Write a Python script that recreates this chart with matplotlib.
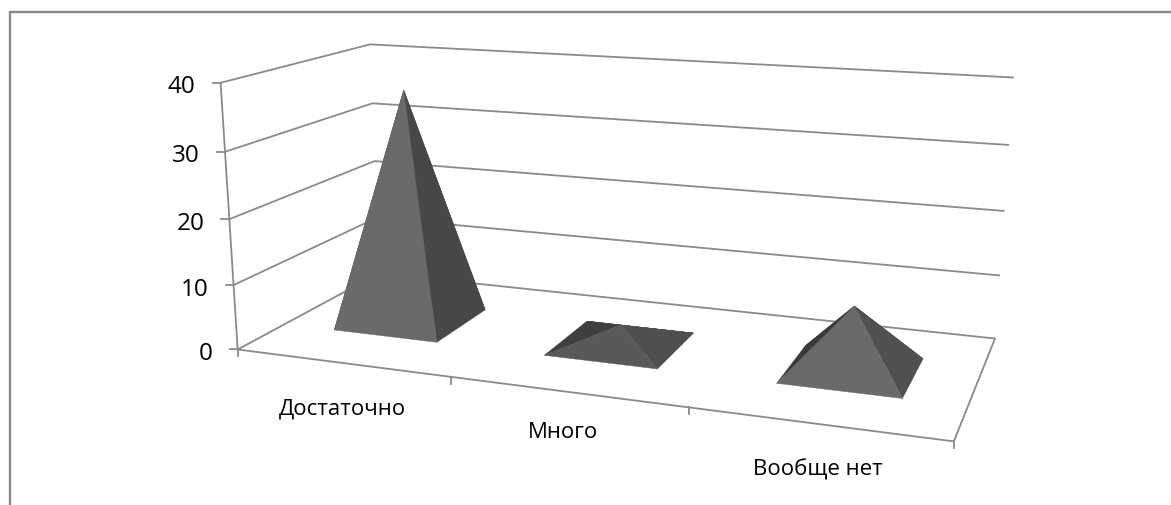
import numpy as np
import matplotlib
matplotlib.use("Agg")
import matplotlib.pyplot as plt

# chart data
categories = ['Достаточно', 'Много', 'Вообще нет']
values = [36.6, 3, 9.7]
y_ticks = [0, 10, 20, 30, 40]

# face colours per pyramid: left, back, right, front
face_colors = [
    ('#3c3c3c', '#3c3c3c', '#474747', '#6a6a6a'),
    ('#3f3f3f', '#3f3f3f', '#4f4f4f', '#595959'),
    ('#3a3a3a', '#3a3a3a', '#505050', '#6a6a6a'),
]

# where the label text sits in the picture (pixels)
label_pos = [(342, 409), (563, 433), (818, 470)]

grey = '#8a8a8a'
font = 'Open Sans'

# box corners in chart coords -> picture pixels, used to fit the camera
box = [(0, 0, 0), (0, 0, 10), (0, 0, 20), (0, 0, 30), (0, 0, 40),
       (3, 1, 0), (3, 1, 10), (3, 1, 20), (3, 1, 30), (3, 1, 40),
       (0, 1, 0), (0, 1, 20), (0, 1, 30), (0, 1, 40), (3, 0, 0)]
pix = [(238, 349.5), (234, 285.7), (229.3, 220), (224.7, 152.7), (220, 84.7),
       (995, 338.5), (999.3, 276.3), (1004, 212), (1008.3, 146), (1013, 78.7),
       (378, 276), (375, 161.7), (373.3, 104), (370, 45), (954, 443.3)]

# solve the 3x4 projection matrix by least squares
A = []
b = []
for (X, Y, Z), (u, v) in zip(box, pix):
    A.append([X, Y, Z, 1, 0, 0, 0, 0, -u * X, -u * Y, -u * Z])
    A.append([0, 0, 0, 0, X, Y, Z, 1, -v * X, -v * Y, -v * Z])
    b += [u, v]
m = np.linalg.lstsq(np.array(A, float), np.array(b, float), rcond=None)[0]
P = np.append(m, 1).reshape(3, 4)


def project(x, y, z):
    h = P @ np.array([x, y, z, 1.0])
    return h[0] / h[2], h[1] / h[2]


def line3d(ax, pts, lw=1.3, color=grey):
    xy = [project(*p) for p in pts]
    ax.plot([p[0] for p in xy], [p[1] for p in xy], color=color, lw=lw, solid_capstyle='round', zorder=2)


fig = plt.figure(figsize=(11.71, 5.06), dpi=100)
ax = fig.add_axes([0, 0, 1, 1])
ax.set_xlim(0, 1171)
ax.set_ylim(506, 0)
ax.axis('off')

# outer chart frame, open on the right and at the bottom
ax.plot([9.5, 9.5, 1171], [506, 13, 13], color=grey, lw=1.7, solid_joinstyle='miter', zorder=1)

# gridlines on the walls
for t in y_ticks:
    line3d(ax, [(0, 0, t), (0, 1, t), (3, 1, t)])
    u, v = project(0, 0, t)
    ax.plot([u - 8, u], [v, v], color=grey, lw=1.3, zorder=2)
    ax.text(u - 25, v + 3.5, str(t), ha='right', va='center', fontsize=17.5, family=font, color='black')

# axis and floor
line3d(ax, [(0, 0, 0), (0, 0, y_ticks[-1])])
line3d(ax, [(0, 0, 0), (3, 0, 0), (3, 1, 0)])
for i in range(len(categories) + 1):
    u, v = project(i, 0, 0)
    ax.plot([u, u], [v, v + 7], color=grey, lw=1.3, zorder=2)

# pyramids
half_w = 0.25
half_d = 0.2
for i, val in enumerate(values):
    cx = i + 0.5
    cy = 0.5
    fl = (cx - half_w, cy - half_d, 0)
    fr = (cx + half_w, cy - half_d, 0)
    br = (cx + half_w, cy + half_d, 0)
    bl = (cx - half_w, cy + half_d, 0)
    top = (cx, cy, val)
    faces = [(bl, fl, top), (bl, br, top), (br, fr, top), (fl, fr, top)]
    for face, col in zip(faces, face_colors[i]):
        xy = [project(*p) for p in face]
        ax.fill([p[0] for p in xy], [p[1] for p in xy], color=col, lw=0.3, zorder=3)

# category labels
for name, (u, v) in zip(categories, label_pos):
    ax.text(u, v, name, ha='center', va='center', fontsize=16, family=font, color='black')

fig.savefig('out.png', dpi=100, facecolor='white')
